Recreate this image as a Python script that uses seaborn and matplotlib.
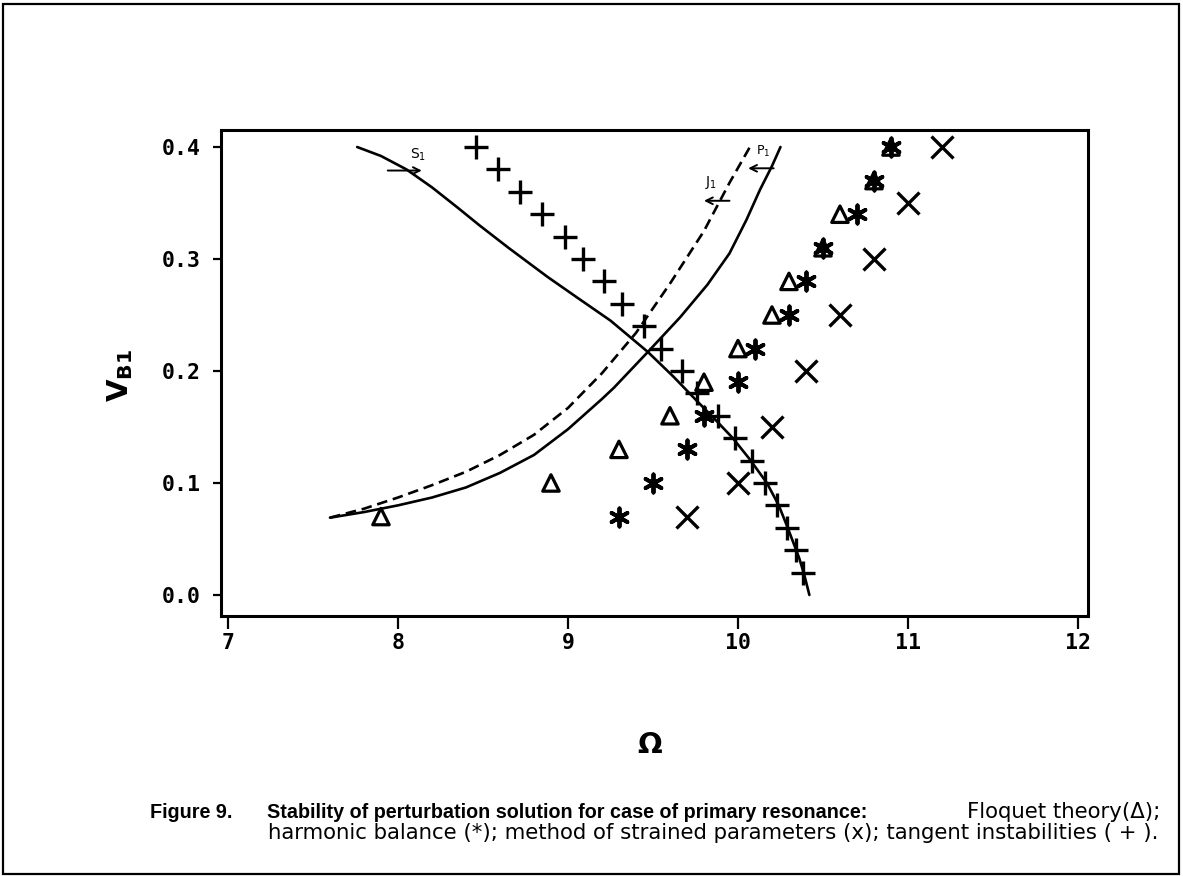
import matplotlib
matplotlib.use("Agg")
import matplotlib.pyplot as plt
import seaborn as sns
import pandas as pd
from matplotlib.patches import Rectangle
from matplotlib.markers import MarkerStyle

# ---- data: frequency Omega vs. amplitude V_B1 ----
floquet_omega = [7.9, 8.9, 9.3, 9.6, 9.8, 10.0, 10.2, 10.3, 10.5, 10.6, 10.8, 10.9]
floquet_v     = [0.07, 0.10, 0.13, 0.16, 0.19, 0.22, 0.25, 0.28, 0.31, 0.34, 0.37, 0.40]

harmonic_omega = [9.3, 9.5, 9.7, 9.8, 10.0, 10.1, 10.3, 10.4, 10.5, 10.7, 10.8, 10.9]
harmonic_v     = [0.07, 0.10, 0.13, 0.16, 0.19, 0.22, 0.25, 0.28, 0.31, 0.34, 0.37, 0.40]

strained_omega = [9.7, 10.0, 10.2, 10.4, 10.6, 10.8, 11.0, 11.2]
strained_v     = [0.07, 0.10, 0.15, 0.20, 0.25, 0.30, 0.35, 0.40]

tangent_omega = [8.46, 8.59, 8.72, 8.85, 8.98, 9.09, 9.21, 9.32, 9.45, 9.55,
                 9.67, 9.76, 9.88, 9.98, 10.08, 10.16, 10.23, 10.29, 10.34, 10.38]
tangent_v     = [0.40, 0.38, 0.36, 0.34, 0.32, 0.30, 0.28, 0.26, 0.24, 0.22,
                 0.20, 0.18, 0.16, 0.14, 0.12, 0.10, 0.08, 0.06, 0.04, 0.02]

# stability boundary curves
s1_omega = [7.76, 7.90, 8.05, 8.20, 8.35, 8.48, 8.65, 8.88, 9.05, 9.25, 9.47, 9.62,
            9.76, 9.87, 9.97, 10.07, 10.17, 10.24, 10.29, 10.33, 10.36, 10.39, 10.42]
s1_v     = [0.400, 0.392, 0.380, 0.364, 0.346, 0.330, 0.310, 0.284, 0.266, 0.245, 0.217, 0.195,
            0.173, 0.156, 0.140, 0.121, 0.100, 0.080, 0.061, 0.045, 0.033, 0.018, 0.000]

p1_omega = [7.60, 7.80, 8.00, 8.20, 8.40, 8.60, 8.80, 9.00, 9.20, 9.27, 9.47, 9.66,
            9.82, 9.95, 10.05, 10.13, 10.20, 10.25]
p1_v     = [0.069, 0.074, 0.080, 0.087, 0.096, 0.109, 0.125, 0.148, 0.175, 0.185, 0.217, 0.248,
            0.277, 0.305, 0.335, 0.362, 0.383, 0.400]

j1_omega = [7.60, 7.80, 8.00, 8.20, 8.40, 8.60, 8.80, 9.00, 9.20, 9.40, 9.60, 9.80,
            9.95, 10.07]
j1_v     = [0.069, 0.077, 0.087, 0.098, 0.110, 0.125, 0.143, 0.167, 0.198, 0.234, 0.278, 0.325,
            0.368, 0.400]

x_ticks = [7, 8, 9, 10, 11, 12]
y_ticks = [0.0, 0.1, 0.2, 0.3, 0.4]

sns.set_style("ticks")
plt.rcParams["font.family"] = ["DejaVu Sans"]
plt.rcParams["mathtext.fontset"] = "dejavusans"
plt.rcParams["text.color"] = "black"
plt.rcParams["xtick.labelcolor"] = "black"
plt.rcParams["ytick.labelcolor"] = "black"

W, H = 1183, 876
fig = plt.figure(figsize=(W / 100, H / 100), dpi=100)
ax = fig.add_axes([221 / W, 1 - 616 / H, (1088 - 221) / W, (616 - 130) / H])

ink = "black"
curve_lw = 1.9

def curve(xs, ys, **kw):
    df = pd.DataFrame({"omega": xs, "v": ys})
    sns.lineplot(data=df, x="omega", y="v", sort=False, estimator=None,
                 color=ink, lw=curve_lw, ax=ax, **kw)

curve(s1_omega, s1_v)
curve(p1_omega, p1_v)
curve(j1_omega, j1_v, linestyle=(0, (4, 2.2)))

sns.scatterplot(x=floquet_omega, y=floquet_v, marker="^", s=140,
                facecolors="none", edgecolor=ink, linewidth=2.3, ax=ax, zorder=3)
sns.scatterplot(x=harmonic_omega, y=harmonic_v, marker=MarkerStyle((6, 2, 0)), s=170,
                color=ink, linewidth=2.8, ax=ax, zorder=3)
sns.scatterplot(x=strained_omega, y=strained_v, marker="x", s=250,
                color=ink, linewidth=2.4, ax=ax, zorder=3)
sns.scatterplot(x=tangent_omega, y=tangent_v, marker="+", s=280,
                color=ink, linewidth=2.4, ax=ax, zorder=3)

# hand-drawn style boundary labels
ann_kw = dict(arrowprops=dict(arrowstyle="->", lw=1.4, color=ink,
                              shrinkA=0, shrinkB=0, mutation_scale=12))
ax.annotate("", xy=(8.14, 0.379), xytext=(7.94, 0.379), **ann_kw)
ax.text(8.12, 0.393, r"$\mathsf{S_1}$", fontsize=10, ha="center", va="center")
ax.annotate("", xy=(9.80, 0.352), xytext=(9.95, 0.352), **ann_kw)
ax.text(9.84, 0.368, r"$\mathsf{J_1}$", fontsize=10, ha="center", va="center")
ax.annotate("", xy=(10.06, 0.381), xytext=(10.21, 0.381), **ann_kw)
ax.text(10.15, 0.396, r"$\mathsf{P_1}$", fontsize=9, ha="center", va="center")

ax.set_xlim(6.959, 12.059)
ax.set_ylim(-0.0188, 0.4152)
ax.set_xticks(x_ticks)
ax.set_yticks(y_ticks)
ax.set_xticklabels([str(t) for t in x_ticks])
ax.set_yticklabels([f"{t:.1f}" for t in y_ticks])

for lab in ax.get_xticklabels() + ax.get_yticklabels():
    lab.set_fontfamily("DejaVu Sans Mono")
    lab.set_fontweight("bold")
    lab.set_fontsize(15.5)
    lab.set_color(ink)

ax.tick_params(axis="x", direction="out", length=9, width=1.6, pad=3, color=ink)
ax.tick_params(axis="y", direction="out", length=5.5, width=1.6, pad=9, color=ink)
for sp in ax.spines.values():
    sp.set_visible(True)
    sp.set_linewidth(2.2)
    sp.set_color(ink)

ax.set_xlabel("")
ax.set_ylabel("")
fig.text(650 / W, 1 - 745 / H, "Ω", fontsize=21, fontweight="bold",
         ha="center", va="center", color=ink)
fig.text(120 / W, 1 - 375 / H, r"$\mathbf{V_{B1}}$", fontsize=21,
         rotation=90, ha="center", va="center", color=ink)

# caption
bold_cap = dict(family="Liberation Sans", fontsize=14.2, va="center",
                fontweight="bold", color=ink)
reg_cap = dict(family="DejaVu Sans", fontsize=15.3, va="center", color=ink)
fig.text(150 / W, 1 - 812 / H, "Figure 9.", **bold_cap)
fig.text(267 / W, 1 - 812 / H,
         "Stability of perturbation solution for case of primary resonance:", **bold_cap)
fig.text(1160 / W, 1 - 812 / H, "Floquet theory(Δ);", ha="right", **reg_cap)
fig.text(268 / W, 1 - 833 / H,
         "harmonic balance (*); method of strained parameters (x); tangent instabilities ( + ).",
         **reg_cap)

# outer frame
fig.patches.append(Rectangle((3 / W, 2 / H), (1179 - 3) / W, (872 - 2) / H,
                             transform=fig.transFigure, fill=False,
                             lw=1.6, edgecolor=ink))

fig.savefig("out.png", dpi=100, facecolor="white")
